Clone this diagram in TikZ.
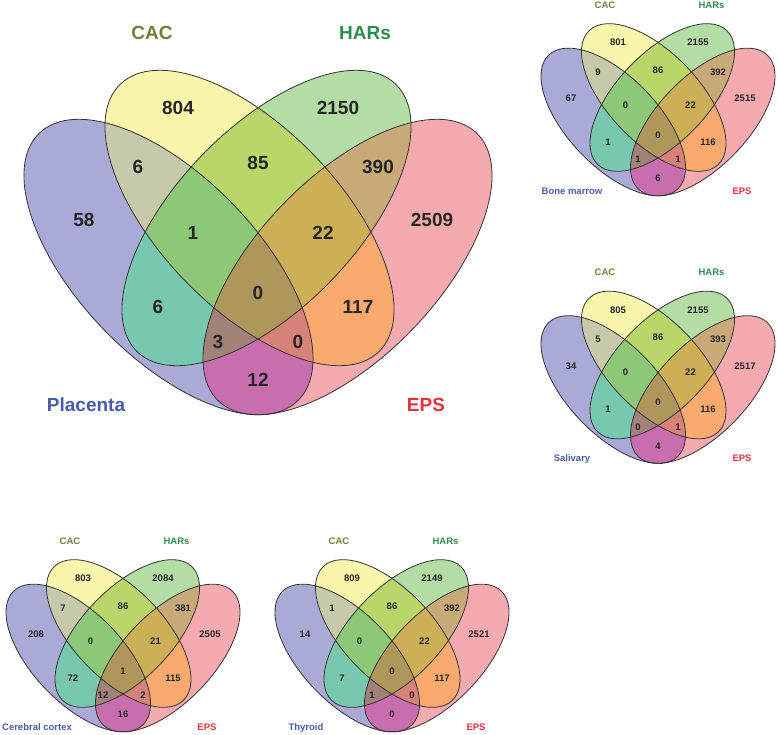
\documentclass[tikz,border=0pt]{standalone}
\usepackage{fontspec}
\setmainfont{Liberation Sans}

% region colours
\definecolor{colP}{HTML}{AAAAD7}
\definecolor{colY}{HTML}{F9F5AC}
\definecolor{colG}{HTML}{B4DCA5}
\definecolor{colK}{HTML}{F5AAAF}
\definecolor{colPY}{HTML}{C8C8AA}
\definecolor{colYG}{HTML}{B9D769}
\definecolor{colGK}{HTML}{C8AA78}
\definecolor{colPG}{HTML}{78C8AF}
\definecolor{colYK}{HTML}{FAAA6E}
\definecolor{colPK}{HTML}{C86EAF}
\definecolor{colPYG}{HTML}{8CC878}
\definecolor{colYGK}{HTML}{CDAF55}
\definecolor{colPGK}{HTML}{A08278}
\definecolor{colPYK}{HTML}{D78278}
\definecolor{colAll}{HTML}{AF965A}
% label colours
\definecolor{catcac}{HTML}{7A7A3C}
\definecolor{cathar}{HTML}{2E8B4E}
\definecolor{cattis}{HTML}{4A5AAA}
\definecolor{cateps}{HTML}{E6323C}

\tikzset{
  setP/.style={shift={(-89.5,-38)},rotate=-46},
  setY/.style={shift={(-8.5,11)},rotate=-46},
  setG/.style={shift={(8.5,11)},rotate=46},
  setK/.style={shift={(89.5,-38)},rotate=46},
  num/.style={inner sep=0pt, text height=13.6pt, text depth=0pt,
    font=\bfseries\fontsize{19}{19}\selectfont, text=black!85},
  lab/.style={num},
  rim/.style={line width=0.8pt, draw=black!80},
}

\def\ea{186}
\def\eb{90}
\newcommand\vpart[2]{\fill[#1,#2] (0,0) ellipse [x radius=\ea, y radius=\eb];}
\newcommand\vclip[1]{\clip[#1] (0,0) ellipse [x radius=\ea, y radius=\eb];}

\newcommand\venn[3]{%
  % one set
  \foreach \s in {P,Y,G,K} {\vpart{set\s}{col\s}}
  % two sets
  \foreach \s/\t in {P/Y,Y/G,G/K,P/G,Y/K,P/K}
    {\begin{scope}\vclip{set\s}\vpart{set\t}{col\s\t}\end{scope}}
  % three sets
  \foreach \s/\t/\u in {P/Y/G,Y/G/K,P/G/K,P/Y/K}
    {\begin{scope}\vclip{set\s}\vclip{set\t}\vpart{set\u}{col\s\t\u}\end{scope}}
  % four sets
  \begin{scope}\vclip{setP}\vclip{setY}\vclip{setG}\vpart{setK}{colAll}\end{scope}
  \foreach \s in {P,Y,G,K} {\draw[set\s,rim] (0,0) ellipse [x radius=\ea, y radius=\eb];}
  % counts
  \foreach \x/\y [count=\i] in {-80/121,80/121,-120/62,0/66,120/62,-174/9,
      -65/-4,65/-4,174/9,-100/-78,0/-64,100/-78,-40/-113,40/-113,0/-151}
    \coordinate (#1s\i) at (\x,\y);
  \foreach \val [count=\i] in {#3}
    \node[num] (#1n\i) at (#1s\i) {\val};
  \node[lab,text=catcac] (#1cac) at (-106,196) {CAC};
  \node[lab,text=cathar] (#1har) at (107,196) {HARs};
  \node[lab,text=cattis] (#1tis) at (-172,-176) {#2};
  \node[lab,text=cateps] (#1eps) at (168,-176) {EPS};
}

\begin{document}
\begin{tikzpicture}[x=1pt,y=1pt]
  \fill[white] (0,0) rectangle (778,-734);
  \useasboundingbox (0,0) rectangle (778,-734);

  \begin{scope}[shift={(258,-229)}]
    \venn{pl}{Placenta}{804,2150,6,85,390,58,1,22,2509,6,0,117,3,0,12}
  \end{scope}

  \begin{scope}[shift={(658,-103)},scale=0.5,transform shape]
    \venn{bm}{Bone marrow}{801,2155,9,86,392,67,0,22,2515,1,0,116,1,1,6}
  \end{scope}

  \begin{scope}[shift={(658,-370.5)},scale=0.5,transform shape]
    \venn{sa}{Salivary}{805,2155,5,86,393,34,0,22,2517,1,0,116,0,1,4}
  \end{scope}

  \begin{scope}[shift={(123,-639)},scale=0.5,transform shape]
    \venn{cc}{Cerebral cortex}{803,2084,7,86,381,208,0,21,2505,72,1,115,12,2,16}
  \end{scope}

  \begin{scope}[shift={(392,-639)},scale=0.5,transform shape]
    \venn{th}{Thyroid}{809,2149,1,86,392,14,0,22,2521,7,0,117,1,0,0}
  \end{scope}
\end{tikzpicture}
\end{document}
